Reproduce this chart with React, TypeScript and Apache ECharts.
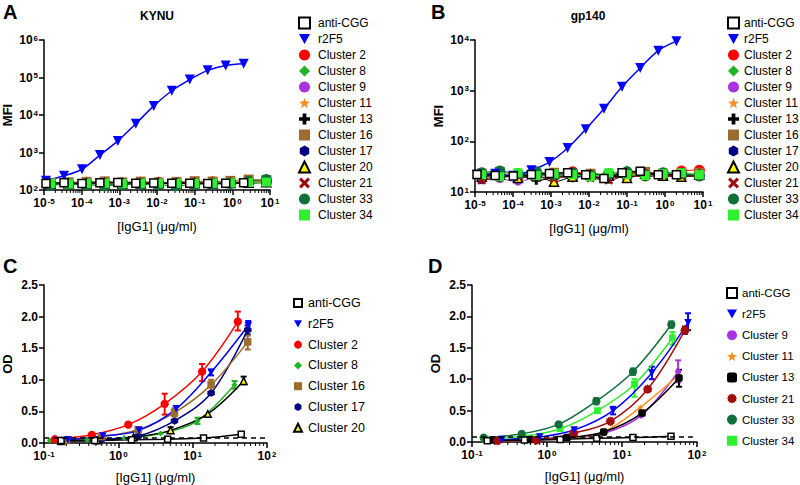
import React, { useEffect, useRef } from 'react';
import * as echarts from 'echarts';

const FONT = '"Liberation Sans", Arial, Helvetica, sans-serif';

// ---------- legend lists ----------
const namesAB = ['anti-CGG', 'r2F5', 'Cluster 2', 'Cluster 8', 'Cluster 9', 'Cluster 11', 'Cluster 13', 'Cluster 16', 'Cluster 17', 'Cluster 20', 'Cluster 21', 'Cluster 33', 'Cluster 34'];
const namesC = ['anti-CGG', 'r2F5', 'Cluster 2', 'Cluster 8', 'Cluster 16', 'Cluster 17', 'Cluster 20'];
const namesD = ['anti-CGG', 'r2F5', 'Cluster 9', 'Cluster 11', 'Cluster 13', 'Cluster 21', 'Cluster 33', 'Cluster 34'];

// ---------- Panel A / B concentrations (µg/ml) ----------
const xCtrlAB = [1.13e-5, 3.4e-5, 1.02e-4, 3.05e-4, 9.1e-4, 2.74e-3, 8.2e-3, 0.0247, 0.074, 0.222, 0.667, 2.0];
const xClusterAB = [1.5e-5, 4.5e-5, 1.35e-4, 4.1e-4, 1.2e-3, 3.7e-3, 0.011, 0.033, 0.1, 0.3, 0.89, 2.7, 8];

// ---------- Panel A: KYNU (MFI) ----------
const kynuAntiCGG = [150, 155, 150, 156, 158, 152, 153, 151, 152, 150, 152, 157];
const kynuR2F5 = [176, 239, 358, 855, 2040, 5850, 17500, 44300, 88100, 155000, 210000, 233000];
const kynuC2 = [150, 148, 160, 152, 147, 155, 162, 150, 158, 165, 160, 170, 175];
const kynuC8 = [140, 145, 150, 138, 148, 142, 150, 146, 152, 148, 155, 150, 160];
const kynuC9 = [145, 150, 148, 155, 150, 146, 150, 148, 153, 150, 155, 158, 162];
const kynuC11 = [148, 152, 146, 150, 155, 150, 147, 152, 150, 156, 152, 160, 165];
const kynuC13 = [142, 146, 150, 148, 145, 150, 148, 152, 150, 148, 153, 155, 158];
const kynuC16 = [155, 160, 165, 170, 160, 168, 158, 165, 172, 168, 175, 190, 185];
const kynuC17 = [150, 148, 152, 150, 155, 150, 148, 153, 150, 152, 155, 158, 160];
const kynuC20 = [146, 150, 148, 152, 150, 149, 151, 150, 152, 150, 154, 156, 160];
const kynuC21 = [145, 150, 152, 148, 150, 147, 152, 150, 148, 153, 150, 155, 162];
const kynuC33 = [135, 140, 138, 130, 140, 142, 138, 130, 142, 145, 150, 170, 190];
const kynuC34 = [150, 146, 150, 152, 148, 150, 152, 150, 149, 152, 155, 158, 162];

// ---------- Panel B: gp140 (MFI) ----------
const gpAntiCGG = [22.2, 21.2, 20.6, 22.2, 23.2, 23.9, 21.8, 18.5, 23.9, 25.7, 21.8, 22];
const gpR2F5 = [22, 23, 21, 27, 39, 74, 174, 440, 1190, 2790, 6170, 9500];
const gpC2 = [20, 22, 19, 24, 21, 25, 22, 20, 24, 23, 21, 26, 27];
const gpC8 = [21, 19, 23, 20, 22, 18, 24, 21, 28, 20, 22, 24, 21];
const gpC9 = [17, 18, 16, 20, 22, 19, 21, 20, 23, 22, 20, 23, 22];
const gpC11 = [19, 21, 20, 23, 20, 22, 19, 25, 21, 24, 22, 21, 23];
const gpC13 = [18, 20, 22, 17, 19, 21, 20, 18, 22, 20, 23, 21, 20];
const gpC16 = [23, 25, 21, 22, 24, 20, 23, 21, 22, 25, 23, 22, 24];
const gpC17 = [21, 20, 22, 21, 23, 20, 22, 21, 20, 22, 24, 22, 21];
const gpC20 = [20, 22, 19, 21, 16, 20, 22, 21, 19, 23, 21, 20, 22];
const gpC21 = [17, 19, 21, 20, 18, 22, 19, 17, 21, 20, 22, 21, 20];
const gpC33 = [24, 26, 23, 25, 22, 24, 21, 23, 25, 22, 24, 23, 21];
const gpC34 = [22, 20, 24, 21, 23, 22, 20, 24, 22, 21, 23, 24, 22];

// ---------- Panel C: ELISA OD ----------
const cXAntiCGG = [0.17, 0.48, 1.5, 4.6, 14, 45];
const cYAntiCGG = [0.04, 0.04, 0.05, 0.06, 0.08, 0.14];
const cXR2F5 = [0.21, 0.62, 1.9, 6.0, 17.7, 56];
const cYR2F5 = [0.05, 0.11, 0.2, 0.54, 1.12, 1.86];
const cXC2 = [0.14, 0.44, 1.36, 4.2, 13.4, 40.5];
const cYC2 = [0.06, 0.13, 0.29, 0.62, 1.13, 1.92];
const cXC8 = [0.12, 0.38, 1.2, 3.7, 11.6, 36.6];
const cYC8 = [0.04, 0.05, 0.08, 0.15, 0.35, 0.92];
const cXC16 = [0.2, 0.6, 1.85, 5.7, 17.7, 55];
const cYC16 = [0.04, 0.1, 0.21, 0.48, 0.92, 1.6];
const cXC17 = [0.2, 0.6, 1.85, 5.7, 17.7, 55];
const cYC17 = [0.04, 0.06, 0.11, 0.35, 0.79, 1.79];
const cXC20 = [0.17, 0.52, 1.6, 5.05, 16, 48.5];
const cYC20 = [0.03, 0.04, 0.09, 0.2, 0.46, 0.98];
// error bars [x, low, high]
const cErrR2F5 = [[17.7, 1.07, 1.16], [56, 1.78, 1.93]];
const cErrC2 = [[4.2, 0.45, 0.78], [13.4, 0.98, 1.25], [40.5, 1.78, 2.08]];
const cErrC8 = [[11.6, 0.3, 0.4], [36.6, 0.86, 0.98]];
const cErrC16 = [[5.7, 0.42, 0.55], [17.7, 0.8, 1.0], [55, 1.48, 1.7]];
const cErrC17 = [[55, 1.72, 1.86]];
const cErrC20 = [[5.05, 0.16, 0.25], [48.5, 0.93, 1.05]];

// ---------- Panel D: ELISA OD ----------
const dXAntiCGG = [0.16, 0.5, 1.5, 4.6, 14, 45];
const dYAntiCGG = [0.02, 0.03, 0.04, 0.06, 0.07, 0.09];
const dXR2F5 = [0.25, 0.8, 2.3, 7.6, 25, 76];
const dYR2F5 = [0.04, 0.08, 0.19, 0.5, 1.1, 1.9];
const dXC9 = [0.2, 0.6, 1.9, 5.8, 18, 56];
const dYC9 = [0.02, 0.03, 0.06, 0.14, 0.42, 1.12];
const dXC11 = [0.19, 0.58, 1.8, 5.6, 17.5, 55];
const dYC11 = [0.02, 0.03, 0.06, 0.16, 0.55, 1.05];
const dXC13 = [0.19, 0.6, 1.85, 5.7, 18.5, 57.5];
const dYC13 = [0.03, 0.04, 0.07, 0.16, 0.46, 1.02];
const dXC21 = [0.22, 0.72, 2.27, 7.0, 22, 69];
const dYC21 = [0.02, 0.03, 0.14, 0.33, 0.84, 1.78];
const dXC33 = [0.143, 0.46, 1.43, 4.55, 14, 45.5];
const dYC33 = [0.07, 0.13, 0.28, 0.65, 1.12, 1.87];
const dXC34 = [0.15, 0.48, 1.5, 4.7, 14.7, 47];
const dYC34 = [0.05, 0.09, 0.21, 0.5, 0.92, 1.66];
const dErrR2F5 = [[7.6, 0.44, 0.56], [25, 1.0, 1.2], [76, 1.78, 2.05]];
const dErrC9 = [[56, 0.95, 1.3]];
const dErrC13 = [[57.5, 0.88, 1.15]];
const dErrC21 = [[69, 1.72, 1.84]];
const dErrC33 = [[4.55, 0.6, 0.7], [14, 1.07, 1.17], [45.5, 1.82, 1.92]];
const dErrC34 = [[14.7, 0.72, 1.0], [47, 1.55, 1.75]];

const cutoffOD = 0.08;

// ---------- marker styles ----------
const badge = (() => {
  let d = '';
  const n = 12;
  for (let i = 0; i < 2 * n; i++) {
    const r = i % 2 === 0 ? 5 : 4.1;
    const a = (Math.PI * i) / n;
    d += (i === 0 ? 'M' : 'L') + (5 + r * Math.cos(a)).toFixed(2) + ',' + (5 + r * Math.sin(a)).toFixed(2);
  }
  return 'path://' + d + 'Z';
})();
const INV_TRI = 'path://M0,0L10,0L5,9Z';
const STAR = 'path://M5,0L6.2,3.5L10,3.6L7,5.9L8.1,9.6L5,7.4L1.9,9.6L3,5.9L0,3.6L3.8,3.5Z';
const PLUS = 'path://M3.3,0H6.7V3.3H10V6.7H6.7V10H3.3V6.7H0V3.3H3.3Z';
const HEX = 'path://M5,0L9.3,2.5L9.3,7.5L5,10L0.7,7.5L0.7,2.5Z';
const XMARK = 'path://M0,2L2,0L5,3L8,0L10,2L7,5L10,8L8,10L5,7L2,10L0,8L3,5Z';

type Mk = { symbol: string; color: string; border?: string; size: number };
const MARK: Record<string, Mk> = {
  'anti-CGG': { symbol: 'rect', color: '#ffffff', border: '#000000', size: 8 },
  'r2F5': { symbol: INV_TRI, color: '#0000ff', size: 10 },
  'Cluster 2': { symbol: 'circle', color: '#ff0000', size: 11 },
  'Cluster 8': { symbol: 'diamond', color: '#21b321', size: 8 },
  'Cluster 9': { symbol: 'circle', color: '#a832e0', size: 8 },
  'Cluster 11': { symbol: STAR, color: '#ff8c1a', size: 9 },
  'Cluster 13': { symbol: PLUS, color: '#000000', size: 9 },
  'Cluster 16': { symbol: 'rect', color: '#9c6b2e', size: 10 },
  'Cluster 17': { symbol: HEX, color: '#000080', size: 10 },
  'Cluster 20': { symbol: 'triangle', color: '#ffff00', border: '#000000', size: 9 },
  'Cluster 21': { symbol: XMARK, color: '#a00d0d', size: 9 },
  'Cluster 33': { symbol: 'circle', color: '#11703a', size: 11 },
  'Cluster 34': { symbol: 'rect', color: '#2ef02e', size: 9 },
};
const lineColor = (n: string) => (n === 'anti-CGG' || n === 'Cluster 20' ? '#000000' : MARK[n].color);

const kynuClusters: [string, number[]][] = [
  ['Cluster 2', kynuC2], ['Cluster 8', kynuC8], ['Cluster 9', kynuC9], ['Cluster 11', kynuC11],
  ['Cluster 13', kynuC13], ['Cluster 16', kynuC16], ['Cluster 17', kynuC17], ['Cluster 20', kynuC20],
  ['Cluster 21', kynuC21], ['Cluster 33', kynuC33], ['Cluster 34', kynuC34],
];
const gpClusters: [string, number[]][] = [
  ['Cluster 2', gpC2], ['Cluster 8', gpC8], ['Cluster 9', gpC9], ['Cluster 11', gpC11],
  ['Cluster 13', gpC13], ['Cluster 16', gpC16], ['Cluster 17', gpC17], ['Cluster 20', gpC20],
  ['Cluster 21', gpC21], ['Cluster 33', gpC33], ['Cluster 34', gpC34],
];
const panelC: [string, number[], number[], number[][]][] = [
  ['Cluster 8', cXC8, cYC8, cErrC8],
  ['Cluster 20', cXC20, cYC20, cErrC20],
  ['Cluster 17', cXC17, cYC17, cErrC17],
  ['Cluster 16', cXC16, cYC16, cErrC16],
  ['r2F5', cXR2F5, cYR2F5, cErrR2F5],
  ['Cluster 2', cXC2, cYC2, cErrC2],
  ['anti-CGG', cXAntiCGG, cYAntiCGG, []],
];
const panelD: [string, number[], number[], number[][]][] = [
  ['Cluster 9', dXC9, dYC9, dErrC9],
  ['Cluster 11', dXC11, dYC11, []],
  ['Cluster 13', dXC13, dYC13, dErrC13],
  ['Cluster 21', dXC21, dYC21, dErrC21],
  ['r2F5', dXR2F5, dYR2F5, dErrR2F5],
  ['Cluster 34', dXC34, dYC34, dErrC34],
  ['Cluster 33', dXC33, dYC33, dErrC33],
  ['anti-CGG', dXAntiCGG, dYAntiCGG, []],
];

const zip = (xs: number[], ys: number[]) => xs.map((x, i) => [x, ys[i]]);

function App() {
  const ref = useRef<HTMLDivElement>(null);
  useEffect(() => {
    document.body.style.margin = '0';
    const chart = echarts.init(ref.current!, null, { renderer: 'svg' });

    const series: any[] = [];
    const markSeries = (name: string, data: number[][], gi: number, scale: number, override?: Partial<Mk>) => {
      const m = { ...MARK[name], ...(override || {}) };
      series.push({
        type: 'scatter', name, xAxisIndex: gi, yAxisIndex: gi, data,
        symbol: m.symbol, symbolSize: m.size * scale,
        itemStyle: { color: m.color, borderColor: m.border || m.color, borderWidth: m.border ? 1.5 : 0, opacity: 1 },
        z: 3,
      });
    };
    const lineSeries = (name: string, data: number[][], gi: number, width: number, extra?: any) => {
      series.push({
        type: 'line', name: '_fit' + gi + name, xAxisIndex: gi, yAxisIndex: gi, data,
        showSymbol: false, smooth: 0.35, lineStyle: { color: lineColor(name), width }, z: 2,
        silent: true, ...(extra || {}),
      });
    };
    const errSeries = (name: string, data: number[][], gi: number) => {
      if (!data.length) return;
      const c = lineColor(name);
      series.push({
        type: 'custom', name: '_err' + gi + name, xAxisIndex: gi, yAxisIndex: gi, data,
        encode: { x: 0, y: [1, 2] }, z: 2, silent: true,
        renderItem: (_p: any, api: any) => {
          const a = api.coord([api.value(0), api.value(1)]);
          const b = api.coord([api.value(0), api.value(2)]);
          const w = 3;
          const st = { stroke: c, lineWidth: 2 };
          return {
            type: 'group', children: [
              { type: 'line', shape: { x1: a[0], y1: a[1], x2: b[0], y2: b[1] }, style: st },
              { type: 'line', shape: { x1: a[0] - w, y1: a[1], x2: a[0] + w, y2: a[1] }, style: st },
              { type: 'line', shape: { x1: b[0] - w, y1: b[1], x2: b[0] + w, y2: b[1] }, style: st },
            ],
          };
        },
      });
    };
    const minorTicks = (gi: number, lo: number, hi: number, yBase: number) => {
      const vals: number[][] = [];
      for (let e = lo; e < hi; e++) for (let m = 2; m <= 9; m++) vals.push([m * Math.pow(10, e), yBase]);
      series.push({
        type: 'custom', name: '_minor' + gi, xAxisIndex: gi, yAxisIndex: gi, data: vals,
        encode: { x: 0, y: 1 }, silent: true, clip: false, z: 1,
        renderItem: (_p: any, api: any) => {
          const p = api.coord([api.value(0), api.value(1)]);
          return { type: 'line', shape: { x1: p[0], y1: p[1], x2: p[0], y2: p[1] + 3 }, style: { stroke: '#000', lineWidth: 1 } };
        },
      });
    };

    // Panel A
    kynuClusters.forEach(([n, ys]) => lineSeries(n, zip(xClusterAB, ys), 0, 1));
    kynuClusters.forEach(([n, ys]) => markSeries(n, zip(xClusterAB, ys), 0, 1));
    lineSeries('r2F5', zip(xCtrlAB, kynuR2F5), 0, 1.5);
    markSeries('r2F5', zip(xCtrlAB, kynuR2F5), 0, 1);
    lineSeries('anti-CGG', zip(xCtrlAB, kynuAntiCGG), 0, 1.5);
    markSeries('anti-CGG', zip(xCtrlAB, kynuAntiCGG), 0, 1);
    minorTicks(0, -5, 1, 100);

    // Panel B
    gpClusters.forEach(([n, ys]) => lineSeries(n, zip(xClusterAB, ys), 1, 1));
    gpClusters.forEach(([n, ys]) => markSeries(n, zip(xClusterAB, ys), 1, 1));
    lineSeries('r2F5', zip(xCtrlAB, gpR2F5), 1, 1.5);
    markSeries('r2F5', zip(xCtrlAB, gpR2F5), 1, 1);
    lineSeries('anti-CGG', zip(xCtrlAB, gpAntiCGG), 1, 1.5);
    markSeries('anti-CGG', zip(xCtrlAB, gpAntiCGG), 1, 1);
    minorTicks(1, -5, 1, 10);

    // Panel C
    panelC.forEach(([n, xs, ys, err]) => {
      const extra = n === 'anti-CGG' ? {
        markLine: { silent: true, symbol: 'none', label: { show: false }, lineStyle: { color: '#000', type: [5, 4], width: 1.5 }, data: [{ yAxis: cutoffOD }] },
      } : undefined;
      lineSeries(n, zip(xs, ys), 2, 1.5, extra);
      errSeries(n, err, 2);
      markSeries(n, zip(xs, ys), 2, 0.75);
    });
    minorTicks(2, -1, 2, 0);

    // Panel D
    panelD.forEach(([n, xs, ys, err]) => {
      const extra = n === 'anti-CGG' ? {
        markLine: { silent: true, symbol: 'none', label: { show: false }, lineStyle: { color: '#000', type: [5, 4], width: 1.5 }, data: [{ yAxis: cutoffOD }] },
      } : undefined;
      lineSeries(n, zip(xs, ys), 3, 1.5, extra);
      errSeries(n, err, 3);
      const ov = n === 'Cluster 13' ? { symbol: 'roundRect', size: 10 } : n === 'Cluster 21' ? { symbol: badge, size: 13 } : undefined;
      markSeries(n, zip(xs, ys), 3, 0.75, ov);
    });
    minorTicks(3, -1, 2, 0);

    const supFmt = (v: number) => `{b|10}{s|${Math.round(Math.log10(v))}}`;
    const rich = {
      b: { fontSize: 12, fontWeight: 'bold', fontFamily: FONT, color: '#000' },
      s: { fontSize: 8, fontWeight: 'bold', fontFamily: FONT, color: '#000', verticalAlign: 'top', padding: [0, 0, 0, 1] },
    };
    const axisBase = {
      axisLine: { show: true, onZero: false, lineStyle: { color: '#000', width: 1.5 } },
      axisTick: { show: true, length: 5, lineStyle: { color: '#000', width: 1.5 } },
      splitLine: { show: false },
    };
    const xName = '[IgG1] (μg/ml)';
    const xNameStyle = { fontFamily: FONT, fontSize: 13, color: '#000' };
    const yNameStyle = { fontFamily: FONT, fontSize: 13, fontWeight: 'bold', color: '#000' };
    const logX = (gi: number, min: number, max: number, split: number, gap: number) => ({
      ...axisBase, type: 'log', logBase: 10, gridIndex: gi, min, max, splitNumber: split,
      axisLabel: { formatter: supFmt, rich, margin: 7 },
      name: xName, nameLocation: 'middle', nameGap: gap, nameTextStyle: xNameStyle,
    });
    const linY = (gi: number) => ({
      ...axisBase, type: 'value', gridIndex: gi, min: 0, max: 2.5, interval: 0.5,
      axisLabel: { formatter: (v: number) => v.toFixed(1), fontFamily: FONT, fontSize: 12, fontWeight: 'bold', color: '#000', margin: 6 },
      name: 'OD', nameLocation: 'middle', nameGap: 30, nameTextStyle: yNameStyle,
    });
    const logY = (gi: number, min: number, max: number, split: number) => ({
      ...axisBase, type: 'log', logBase: 10, gridIndex: gi, min, max, splitNumber: split,
      axisLabel: { formatter: supFmt, rich, margin: 6 },
      name: 'MFI', nameLocation: 'middle', nameGap: 30, nameTextStyle: yNameStyle,
    });

    const legendBase = (left: number, top: number, names: any[], iw: number, gap: number, fs: number, padL: number) => ({
      orient: 'vertical', left, top, data: names, itemWidth: iw, itemHeight: iw, itemGap: gap,
      selectedMode: false, textStyle: { fontFamily: FONT, fontSize: fs, color: '#000', lineHeight: 14, padding: [0, 0, 0, padL] },
    });
    const dLegend = namesD.map((n) => n === 'Cluster 13' ? { name: n, icon: 'roundRect' } : n === 'Cluster 21' ? { name: n, icon: badge } : { name: n });

    const txt = (text: string, x: number, y: number, size: number, align = 'left') => ({
      type: 'text', x, y, style: { text, font: `bold ${size}px ${FONT}`, fill: '#000', textAlign: align, textVerticalAlign: 'middle' },
    });

    chart.setOption({
      animation: false,
      backgroundColor: '#ffffff',
      grid: [
        { left: 44, top: 40, width: 226, height: 150 },
        { left: 475, top: 40, width: 228, height: 152 },
        { left: 42, top: 285, width: 225, height: 158 },
        { left: 472, top: 285, width: 225, height: 157 },
      ],
      xAxis: [
        logX(0, 1e-5, 10, 6, 30),
        logX(1, 1e-5, 10, 6, 30),
        logX(2, 0.1, 100, 3, 28),
        logX(3, 0.1, 100, 3, 28),
      ],
      yAxis: [logY(0, 100, 1e6, 4), logY(1, 10, 1e4, 3), linY(2), linY(3)],
      legend: [
        legendBase(293, 11, namesAB, 11, 2, 12, 3),
        legendBase(722, 11, namesAB, 11, 2, 12, 0),
        legendBase(288, 291, namesC, 8, 6.8, 12.5, 1),
        legendBase(721, 281, dLegend, 10, 7.1, 11.5, 0),
      ],
      graphic: [
        txt('A', 3, 12, 20),
        txt('KYNU', 157, 16, 12, 'center'),
        txt('B', 431, 12, 20),
        txt('gp140', 588, 16, 12, 'center'),
        txt('C', 3, 266, 20),
        txt('D', 428, 266, 20),
      ],
      series,
    });
    return () => chart.dispose();
  }, []);
  return <div ref={ref} style={{ width: 800, height: 485 }} />;
}

export default App;
